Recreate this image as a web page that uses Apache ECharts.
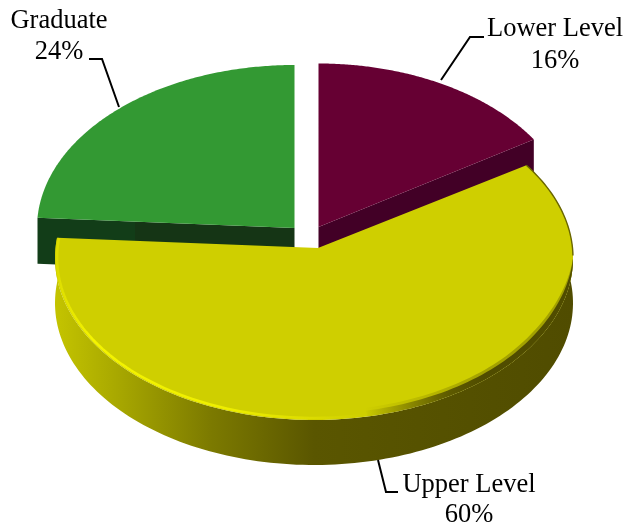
<!DOCTYPE html>
<html>
<head>
<meta charset="utf-8">
<style>html,body{margin:0;padding:0;background:#fff}#c{width:626px;height:527px}</style>
<script src="https://cdn.jsdelivr.net/npm/echarts@6/dist/echarts.min.js"></script>
</head>
<body>
<div id="c"></div>
<script>
const categories = ['Lower Level', 'Upper Level', 'Graduate'];
const shares = [16, 60, 24];

// Drawing layout, per slice (same order as categories)
const look = [
  { cx: 318.5, cy: 227, ax: 318.5, ay: 227, rx: 255, ry: 163.5, depth: 46, z: 2,
    top: '#660033', cut: [[0, '#420026'], [1, '#420026']],
    label: [555, 29, 555, 61], leader: [[441, 80], [470, 37], [484, 37]] },
  { cx: 314, cy: 258, ax: 318, ay: 248, rx: 259, ry: 162, depth: 45, z: 3,
    top: '#cfcf00', wall: [[0, '#c4c400'], [0.12, '#a8a800'], [0.3, '#7c7a00'], [0.5, '#5a5600'], [1, '#504c00']],
    bevel: true,
    label: [469, 485, 469, 515.5], leader: [[378, 460], [386, 492], [398, 492]] },
  { cx: 294.5, cy: 228, ax: 294.5, ay: 228, rx: 257.5, ry: 163, depth: 46, z: 1,
    top: '#339933', cut: [[0, '#123d18'], [0.38, '#123d18'], [0.38, '#153515'], [1, '#153515']],
    label: [59, 21, 59, 52], leader: [[89, 59], [102, 59], [119, 107]] }
];

const font = '26.5px "Liberation Serif", "Times New Roman", serif';
const rad = d => d * Math.PI / 180;
const stops = list => list.map(s => ({ offset: s[0], color: s[1] }));
const hGrad = (x0, x1, list) => ({ type: 'linear', x: x0, y: 0, x2: x1, y2: 0, global: true, colorStops: stops(list) });

function rimPoint(g, deg) {
  // Where the ray leaving the apex at this pie angle meets the slice's ellipse
  const dx = Math.sin(rad(deg)), dy = -Math.cos(rad(deg));
  const ax = (g.ax - g.cx) / g.rx, ay = (g.ay - g.cy) / g.ry;
  const b = ax * dx + ay * dy;
  const l = -b + Math.sqrt(b * b - (ax * ax + ay * ay - 1));
  return [g.cx + g.rx * (ax + l * dx), g.cy + g.ry * (ay + l * dy)];
}

function renderSlice(params, api) {
  const i = params.dataIndex;
  const g = look[i];
  const share = api.value(0), before = api.value(1);
  const a0 = before * 3.6, a1 = (before + share) * 3.6;

  const arc = [];
  const n = 160;
  for (let k = 0; k <= n; k++) arc.push(rimPoint(g, a0 + (a1 - a0) * k / n));
  const down = p => [p[0], p[1] + g.depth];
  const apex = [g.ax, g.ay];
  const children = [];
  const shape = (type, pts, style) => children.push({ type, z2: g.z, shape: { points: pts }, style });

  if (g.wall) {
    shape('polygon', arc.concat(arc.map(down).reverse()), { fill: hGrad(g.cx - g.rx, g.cx + g.rx, g.wall) });
  }
  const cutFace = p => shape('polygon', [apex, p, down(p), down(apex)], {
    fill: hGrad(Math.min(p[0], apex[0]), Math.max(p[0], apex[0]), g.cut)
  });
  if (g.cut) {
    if (a0 > 180) cutFace(arc[0]);
    if (a1 < 180) cutFace(arc[n]);
  }
  shape('polygon', [apex].concat(arc), { fill: g.top });

  if (g.bevel) {
    const inset = d => p => [g.cx + (p[0] - g.cx) * (1 - d / g.rx), g.cy + (p[1] - g.cy) * (1 - d / g.ry)];
    const taper = (d, p) => d * Math.sin(Math.min(1, (p[1] - g.cy) / 90) * Math.PI / 2);
    const band = d => {
      const outer = arc.filter(p => p[1] > g.cy && p[0] > g.cx + 50);
      return outer.concat(outer.map(p => inset(taper(d, p))(p)).reverse());
    };
    // soft dark edge, front right: a wide faint band under a narrow firm one
    shape('polygon', band(9), { fill: hGrad(g.cx + 50, g.cx + 170, [[0, 'rgba(80,76,0,0)'], [1, 'rgba(80,76,0,0.35)']]) });
    shape('polygon', band(6), { fill: hGrad(g.cx + 50, g.cx + 170, [[0, 'rgba(80,76,0,0)'], [0.7, 'rgba(80,76,0,0.85)'], [1, '#504c00']]) });
    // thin dark edge, back right
    const thinPts = arc.filter(p => p[1] <= g.cy + 1 && p[0] > g.cx);
    shape('polyline', thinPts, { fill: null, lineWidth: 1.4, stroke: '#6a6600' });
    // bright edge, front left
    const brightPts = arc.filter(p => p[0] < g.cx + 50 && p[1] > g.cy - 30).map(inset(2));
    shape('polyline', brightPts, {
      fill: null, lineWidth: 2.6, lineJoin: 'round',
      stroke: hGrad(g.cx - g.rx, g.cx + 50, [[0, '#dcdc00'], [0.12, '#f4f400'], [0.55, '#eeee00'], [0.8, '#dede00'], [1, '#cfcf00']])
    });
  }
  shape('polyline', g.leader, { fill: null, stroke: '#000', lineWidth: 2 });
  const text = (t, x, y) => children.push({
    type: 'text', z2: 5,
    style: { text: t, x, y, font, fill: '#000', align: 'center', verticalAlign: 'middle', textAlign: 'center', textVerticalAlign: 'middle' }
  });
  text(categories[i], g.label[0], g.label[1]);
  text(share + '%', g.label[2], g.label[3]);
  return { type: 'group', children };
}

const starts = shares.map((_, i) => shares.slice(0, i).reduce((a, b) => a + b, 0));

const chart = echarts.init(document.getElementById('c'), null, { renderer: 'canvas' });
chart.setOption({
  backgroundColor: '#fff',
  animation: false,
  series: [{
    type: 'custom',
    coordinateSystem: 'none',
    silent: true,
    renderItem: renderSlice,
    data: shares.map((v, i) => ({ name: categories[i], value: [v, starts[i]] }))
  }]
});
</script>
</body>
</html>
